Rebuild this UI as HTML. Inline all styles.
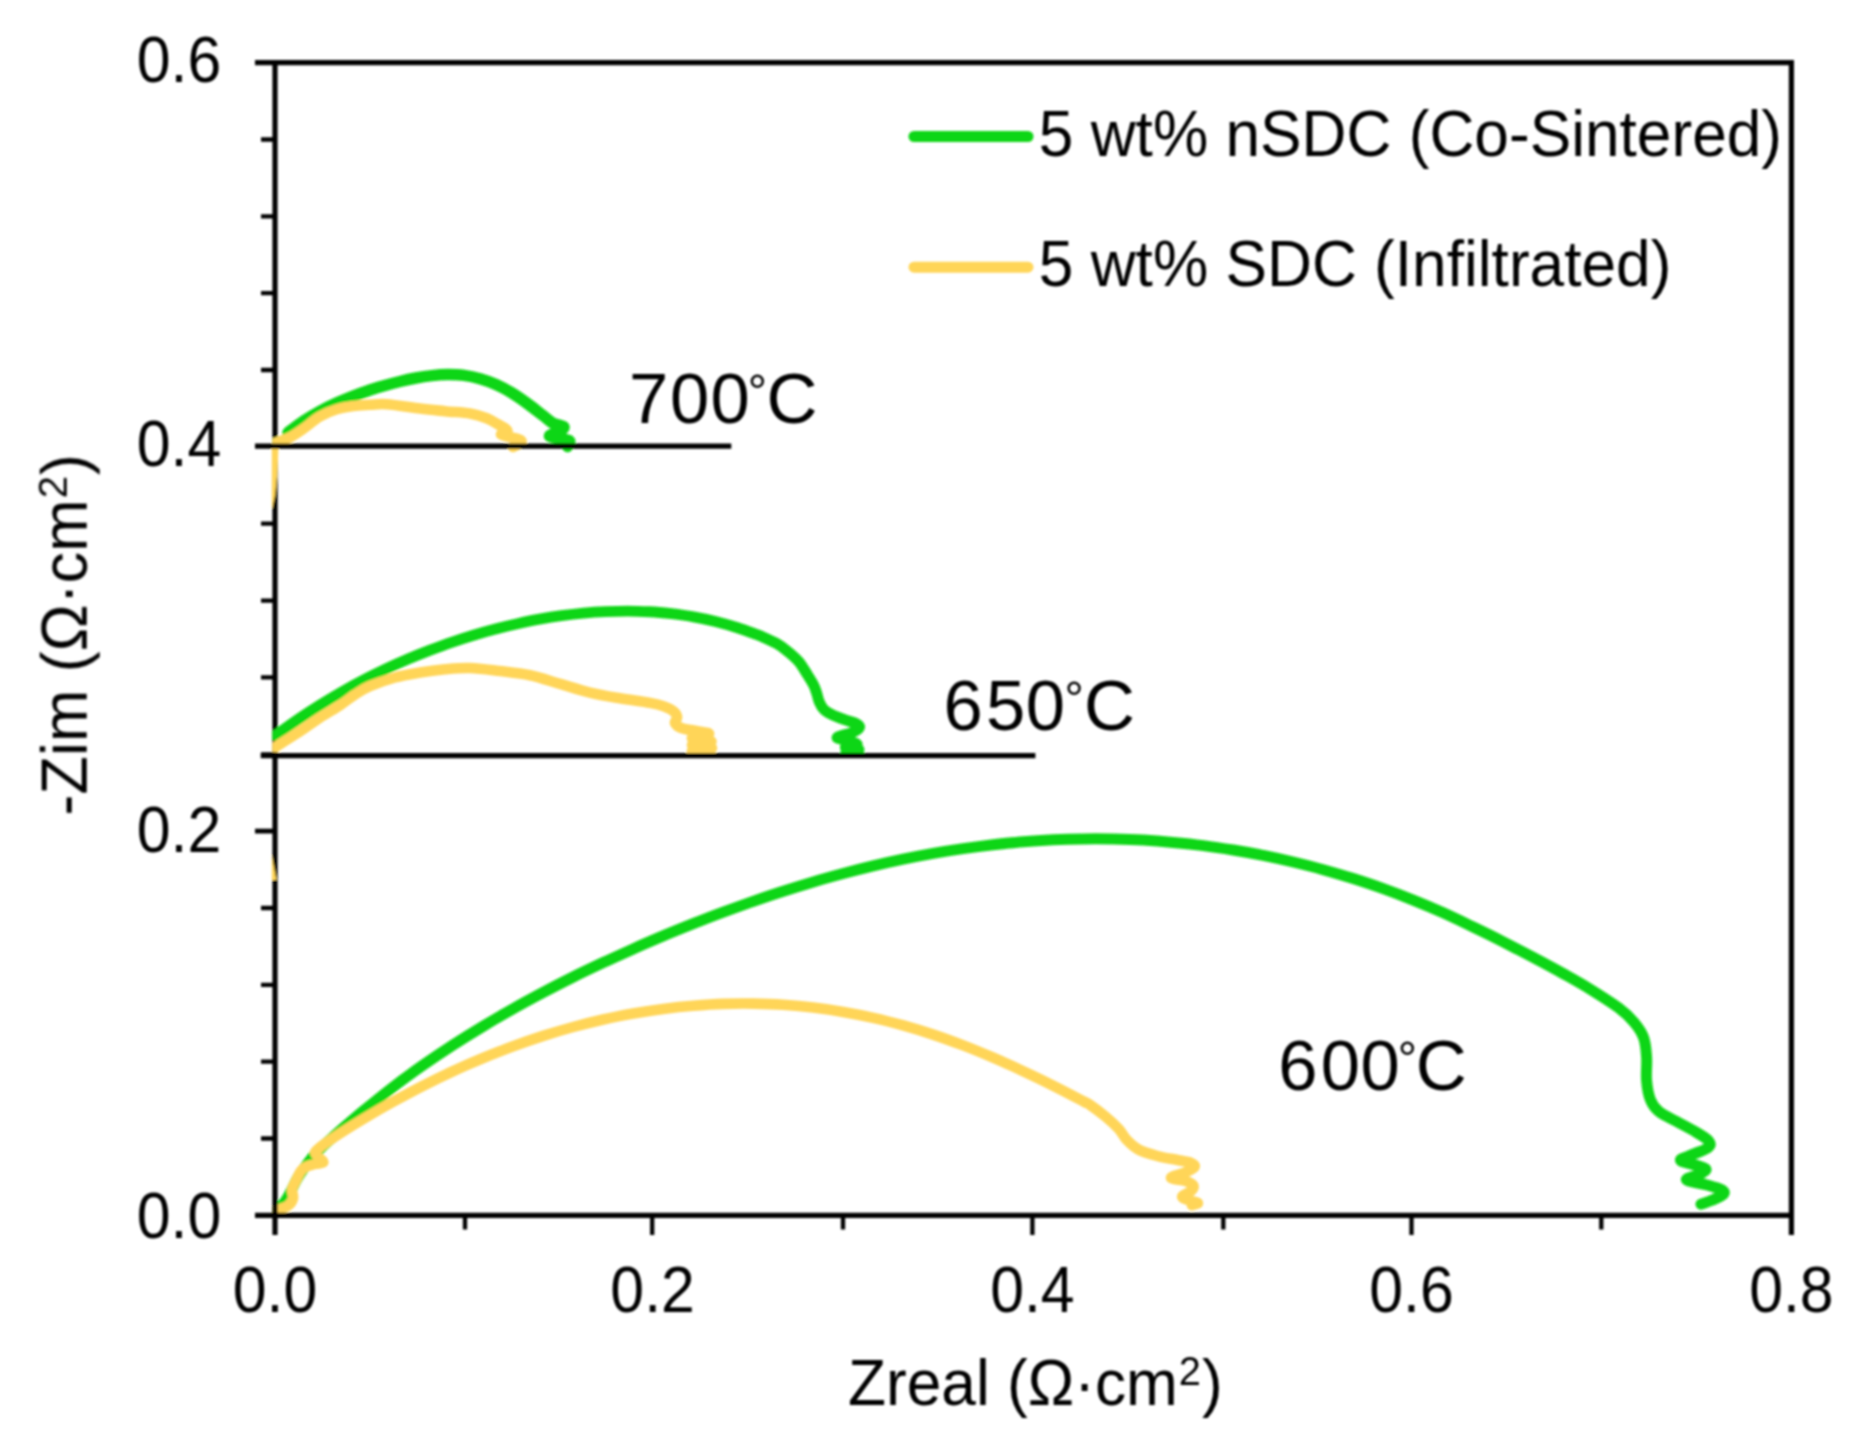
<!DOCTYPE html>
<html lang="en"><head><meta charset="utf-8"><title>Nyquist plot</title>
<style>html,body{margin:0;padding:0;background:#fff}body{width:1872px;height:1440px;overflow:hidden}svg{display:block}text{font-family:"Liberation Sans",Arial,sans-serif;fill:#000}</style></head><body>
<svg width="1872" height="1440" viewBox="0 0 1872 1440">
<rect width="1872" height="1440" fill="#fff"/>
<filter id="soft" x="0" y="0" width="1872" height="1440" filterUnits="userSpaceOnUse"><feGaussianBlur stdDeviation="1"/></filter>
<g filter="url(#soft)">
<clipPath id="cp"><rect x="272.2" y="40" width="1530" height="1190"/></clipPath>
<g clip-path="url(#cp)">
<path d="M275.0 1211.0C276.1 1210.2 279.3 1208.4 281.5 1206.0C283.7 1203.6 285.6 1201.1 288.2 1196.5C290.8 1191.9 294.6 1183.3 297.3 1178.5C300.0 1173.7 301.9 1171.4 304.5 1167.7C307.1 1164.0 310.1 1160.0 313.0 1156.5C315.9 1153.0 318.6 1150.3 322.0 1147.0C325.4 1143.7 326.3 1142.8 333.2 1136.8C340.1 1130.8 353.2 1119.4 363.2 1111.1C373.2 1102.8 383.2 1094.7 393.2 1087.0C403.2 1079.3 413.2 1072.1 423.2 1065.1C433.2 1058.1 443.2 1051.4 453.2 1044.9C463.2 1038.4 473.2 1032.2 483.2 1026.2C493.2 1020.2 503.2 1014.3 513.2 1008.7C523.2 1003.1 533.2 997.7 543.2 992.4C553.2 987.1 563.2 982.0 573.2 977.0C583.2 972.0 593.2 967.3 603.2 962.6C613.2 957.9 623.2 953.4 633.2 948.9C643.2 944.4 653.2 940.1 663.2 935.9C673.2 931.7 683.2 927.7 693.2 923.7C703.2 919.7 713.2 915.8 723.2 912.1C733.2 908.4 743.2 904.8 753.2 901.3C763.2 897.8 773.2 894.4 783.2 891.2C793.2 888.0 803.2 884.9 813.2 881.9C823.2 878.9 833.2 876.2 843.2 873.5C853.2 870.8 863.2 868.3 873.2 865.9C883.2 863.5 893.2 861.3 903.2 859.2C913.2 857.1 923.2 855.2 933.2 853.4C943.2 851.6 953.2 850.0 963.2 848.6C973.2 847.2 983.2 845.9 993.2 844.7C1003.2 843.6 1013.2 842.5 1023.2 841.7C1033.2 840.9 1043.2 840.3 1053.2 839.8C1063.2 839.3 1073.2 839.0 1083.2 838.9C1093.2 838.8 1103.2 838.8 1113.2 839.0C1123.2 839.2 1133.2 839.5 1143.2 840.1C1153.2 840.7 1163.2 841.5 1173.2 842.4C1183.2 843.3 1193.2 844.3 1203.2 845.6C1213.2 846.9 1223.2 848.4 1233.2 850.0C1243.2 851.6 1253.2 853.4 1263.2 855.4C1273.2 857.4 1283.2 859.6 1293.2 862.0C1303.2 864.4 1313.2 866.9 1323.2 869.7C1333.2 872.5 1343.2 875.4 1353.2 878.6C1363.2 881.8 1373.2 885.1 1383.2 888.7C1393.2 892.3 1403.2 896.1 1413.2 900.1C1423.2 904.1 1433.2 908.3 1443.2 912.8C1453.2 917.3 1463.2 922.2 1473.2 927.0C1483.2 931.8 1493.2 936.7 1503.2 941.8C1513.2 946.9 1523.2 952.1 1533.2 957.4C1543.2 962.7 1553.9 968.4 1563.2 973.6C1572.5 978.8 1580.0 982.9 1589.2 988.6C1598.4 994.3 1610.9 1002.1 1618.4 1007.7C1625.9 1013.3 1629.8 1017.3 1634.0 1022.3C1638.2 1027.3 1641.6 1032.0 1643.7 1037.8C1645.8 1043.6 1646.1 1050.2 1646.6 1057.3C1647.1 1064.4 1645.9 1073.5 1646.6 1080.6C1647.2 1087.7 1648.4 1094.8 1650.5 1100.0C1652.6 1105.2 1654.8 1108.2 1659.2 1111.8C1663.6 1115.4 1670.5 1118.1 1676.7 1121.5C1682.9 1124.9 1690.9 1129.0 1696.2 1132.2C1701.5 1135.5 1706.8 1138.4 1708.8 1141.0C1710.8 1143.6 1710.7 1145.4 1707.9 1147.7C1705.2 1150.0 1696.8 1152.5 1692.3 1154.6C1687.8 1156.7 1679.9 1158.6 1680.6 1160.4C1681.2 1162.2 1692.0 1163.8 1696.2 1165.3C1700.4 1166.8 1705.3 1167.6 1705.9 1169.1C1706.5 1170.5 1703.2 1172.2 1700.0 1174.0C1696.8 1175.8 1685.5 1178.0 1686.5 1179.8C1687.5 1181.6 1700.1 1183.1 1705.9 1184.7C1711.7 1186.3 1718.6 1188.0 1721.5 1189.6C1724.4 1191.2 1725.0 1192.6 1723.4 1194.4C1721.8 1196.2 1715.5 1198.7 1711.8 1200.3C1708.1 1201.9 1702.8 1203.5 1701.0 1204.2" fill="none" stroke="#0fd614" stroke-width="11" stroke-linecap="round" stroke-linejoin="round"/>
<path d="M274.5 1211.0C276.8 1210.1 284.9 1207.7 288.0 1205.6C291.1 1203.5 292.3 1201.1 293.0 1198.4C293.7 1195.7 291.6 1192.3 292.1 1189.3C292.6 1186.3 294.8 1183.3 296.2 1180.3C297.6 1177.3 299.0 1173.6 300.7 1171.3C302.4 1169.0 303.7 1167.9 306.1 1166.7C308.5 1165.5 312.2 1164.8 315.1 1164.0C318.0 1163.2 322.8 1163.4 323.3 1162.2C323.8 1161.0 319.3 1158.5 317.9 1156.8C316.5 1155.1 314.7 1153.9 315.1 1152.3C315.6 1150.7 317.6 1149.3 320.6 1146.9C323.6 1144.5 326.1 1142.5 333.2 1137.8C340.3 1133.1 353.2 1125.0 363.2 1119.0C373.2 1113.0 383.2 1107.2 393.2 1101.7C403.2 1096.2 413.2 1090.8 423.2 1085.7C433.2 1080.6 443.2 1075.7 453.2 1071.1C463.2 1066.5 473.2 1062.1 483.2 1058.0C493.2 1053.9 503.2 1050.0 513.2 1046.3C523.2 1042.6 533.2 1039.1 543.2 1035.9C553.2 1032.7 563.2 1029.7 573.2 1027.0C583.2 1024.3 593.2 1021.8 603.2 1019.5C613.2 1017.2 623.2 1015.3 633.2 1013.5C643.2 1011.7 653.2 1010.2 663.2 1008.9C673.2 1007.6 683.2 1006.5 693.2 1005.7C703.2 1004.9 713.2 1004.2 723.2 1003.9C733.2 1003.5 743.2 1003.5 753.2 1003.6C763.2 1003.8 773.2 1004.1 783.2 1004.8C793.2 1005.5 803.2 1006.4 813.2 1007.6C823.2 1008.8 833.2 1010.2 843.2 1011.9C853.2 1013.6 863.2 1015.5 873.2 1017.8C883.2 1020.0 893.2 1022.6 903.2 1025.4C913.2 1028.2 923.2 1031.3 933.2 1034.6C943.2 1037.9 953.2 1041.6 963.2 1045.4C973.2 1049.2 983.2 1053.4 993.2 1057.7C1003.2 1062.0 1013.2 1066.5 1023.2 1071.2C1033.2 1075.9 1043.2 1080.7 1053.2 1085.7C1063.2 1090.7 1077.1 1098.0 1083.2 1101.2C1089.3 1104.4 1086.3 1102.2 1090.0 1104.8C1093.7 1107.3 1100.6 1112.5 1105.4 1116.5C1110.2 1120.5 1115.3 1125.2 1118.8 1129.0C1122.3 1132.8 1123.3 1136.2 1126.5 1139.6C1129.7 1143.0 1132.9 1146.5 1138.0 1149.2C1143.1 1151.9 1150.9 1154.2 1157.3 1156.0C1163.7 1157.8 1170.9 1158.7 1176.5 1159.8C1182.1 1160.9 1188.0 1161.6 1191.0 1162.8C1194.0 1164.0 1195.3 1165.6 1194.4 1167.2C1193.5 1168.8 1189.5 1170.4 1185.6 1172.2C1181.7 1174.0 1171.0 1176.3 1171.0 1177.8C1171.0 1179.3 1181.9 1179.7 1185.6 1181.0C1189.3 1182.3 1192.4 1183.9 1193.3 1185.6C1194.2 1187.3 1192.8 1189.2 1191.0 1191.0C1189.2 1192.8 1182.2 1195.0 1182.2 1196.7C1182.2 1198.4 1188.4 1200.0 1191.0 1201.0C1193.6 1202.0 1197.6 1202.3 1197.8 1203.0C1198.0 1203.7 1193.0 1204.8 1192.0 1205.2" fill="none" stroke="#ffd558" stroke-width="10.6" stroke-linecap="round" stroke-linejoin="round"/>
</g>
<g stroke="#000" fill="none" stroke-linecap="butt">
<path d="M255 62.6H1791.4V1235" stroke-width="5.2"/>
<path d="M275.0 60.0V1235" stroke-width="5.2"/>
<path d="M255 1215.4H1794.0" stroke-width="5.2"/>
<path d="M261 1138.5H275.0M261 1061.7H275.0M261 984.8H275.0M261 908.0H275.0M261 754.3H275.0M261 677.4H275.0M261 600.6H275.0M261 523.7H275.0M261 370.0H275.0M261 293.2H275.0M261 216.3H275.0M261 139.5H275.0" stroke-width="4.3"/>
<path d="M255 831.1H275.0" stroke-width="4.8"/>
<path d="M465.0 1215.4V1229.5M652.2 1215.4V1235M843.0 1215.4V1229.5M1032.4 1215.4V1235M1223.3 1215.4V1229.5M1411.5 1215.4V1235M1601.3 1215.4V1229.5" stroke-width="4.3"/>
</g>
<g clip-path="url(#cp)">
<path d="M273 440.5L277.2 438.6" stroke="#0fd614" stroke-width="4" stroke-linecap="round"/>
<path d="M288.0 432.6C290.7 430.6 298.7 424.4 304.0 420.8C309.3 417.2 314.7 414.1 320.0 411.2C325.3 408.3 330.7 405.7 336.0 403.3C341.3 400.9 346.7 398.7 352.0 396.6C357.3 394.5 362.7 392.6 368.0 390.8C373.3 389.0 378.7 387.4 384.0 385.8C389.3 384.2 394.7 382.8 400.0 381.5C405.3 380.2 410.7 379.0 416.0 378.0C421.3 377.0 426.7 376.2 432.0 375.6C437.3 375.0 442.7 374.6 448.0 374.6C453.3 374.6 458.7 374.7 464.0 375.4C469.3 376.1 474.7 377.2 480.0 378.7C485.3 380.2 490.7 382.1 496.0 384.5C501.3 386.9 506.7 389.8 512.0 393.0C517.3 396.2 522.7 400.1 528.0 404.0C533.3 407.9 539.8 413.1 544.0 416.3C548.2 419.5 550.0 421.6 553.3 423.3C556.5 425.0 562.3 425.2 563.5 426.5C564.7 427.8 562.8 429.5 560.5 431.0C558.2 432.5 550.0 434.4 549.6 435.6C549.2 436.9 554.7 437.6 558.0 438.5C561.3 439.4 567.7 439.5 569.3 440.8C570.9 442.1 567.8 445.6 567.5 446.5" fill="none" stroke="#0fd614" stroke-width="11.5" stroke-linecap="round" stroke-linejoin="round"/>
<path d="M275.5 443.0C277.9 442.0 285.4 439.6 290.0 437.2C294.6 434.8 298.3 432.2 303.3 428.7C308.3 425.2 314.4 419.6 320.0 416.4C325.6 413.1 331.1 410.9 336.7 409.2C342.2 407.4 347.8 406.6 353.3 405.9C358.9 405.2 364.4 405.1 370.0 404.8C375.6 404.5 378.4 403.6 386.7 404.2C395.0 404.8 410.3 407.2 420.0 408.4C429.7 409.6 436.7 410.3 445.0 411.2C453.3 412.1 463.1 412.3 470.0 413.5C476.9 414.7 482.1 416.5 486.7 418.3C491.3 420.1 494.6 422.4 497.8 424.2C501.0 426.0 504.5 427.7 506.0 429.0C507.5 430.3 507.8 431.1 507.0 432.0C506.2 432.9 500.3 433.7 501.1 434.6C501.9 435.5 508.7 436.6 512.0 437.5C515.3 438.4 519.8 439.2 521.0 440.3C522.2 441.4 520.3 442.9 519.0 444.0C517.7 445.1 514.0 446.5 513.0 447.0" fill="none" stroke="#ffd558" stroke-width="10.6" stroke-linecap="round" stroke-linejoin="round"/>
<path d="M275.5 735.4C279.2 732.8 290.2 724.7 297.5 719.7C304.8 714.7 312.2 709.9 319.5 705.3C326.8 700.7 334.2 696.3 341.5 692.1C348.8 687.9 356.2 683.9 363.5 680.1C370.8 676.3 378.2 672.7 385.5 669.2C392.8 665.7 400.2 662.4 407.5 659.3C414.8 656.2 422.2 653.2 429.5 650.4C436.8 647.6 444.2 644.8 451.5 642.3C458.8 639.8 466.2 637.4 473.5 635.2C480.8 633.0 488.2 630.9 495.5 629.0C502.8 627.1 510.2 625.3 517.5 623.7C524.8 622.1 532.2 620.5 539.5 619.2C546.8 617.9 554.2 616.7 561.5 615.7C568.8 614.7 576.2 613.8 583.5 613.1C590.8 612.4 598.2 611.9 605.5 611.6C612.8 611.3 620.2 611.1 627.5 611.1C634.8 611.1 642.2 611.4 649.5 611.8C656.8 612.2 664.2 612.9 671.5 613.7C678.8 614.6 686.2 615.6 693.5 616.9C700.8 618.2 708.2 619.7 715.5 621.5C722.8 623.3 730.2 625.4 737.5 627.8C744.8 630.1 755.8 634.3 759.5 635.6C763.2 636.9 757.1 634.5 760.0 635.8C762.9 637.1 772.1 641.0 776.7 643.6C781.3 646.2 784.1 648.4 787.8 651.4C791.5 654.4 795.7 657.9 798.9 661.7C802.1 665.5 804.7 670.4 807.2 674.4C809.7 678.4 812.3 682.4 813.9 685.6C815.5 688.9 816.0 691.1 816.9 693.9C817.8 696.7 818.1 699.5 819.4 702.2C820.6 704.9 822.1 707.9 824.4 710.0C826.7 712.1 829.5 713.4 833.0 715.1C836.5 716.8 841.8 718.6 845.6 720.0C849.4 721.4 853.7 722.2 856.0 723.5C858.3 724.8 860.0 726.1 859.4 727.6C858.8 729.1 856.2 730.9 852.5 732.5C848.8 734.1 837.8 736.0 837.2 737.4C836.6 738.8 845.7 739.6 849.0 740.8C852.3 742.0 857.6 743.4 857.0 744.5C856.4 745.6 845.2 746.7 845.5 747.5C845.8 748.3 858.9 748.8 859.0 749.5C859.1 750.2 846.1 751.1 846.0 751.5C845.9 751.9 856.4 751.9 858.5 752.0" fill="none" stroke="#0fd614" stroke-width="10.9" stroke-linecap="round" stroke-linejoin="round"/>
<path d="M275.5 747.0C277.4 745.8 282.1 742.7 286.7 739.7C291.3 736.7 297.8 732.7 303.3 729.0C308.9 725.3 313.9 721.5 320.0 717.5C326.1 713.5 334.2 709.0 340.0 705.2C345.8 701.4 350.0 697.7 355.0 694.5C360.0 691.3 363.3 688.8 370.0 686.0C376.7 683.2 386.7 679.8 395.0 677.5C403.3 675.2 411.7 673.9 420.0 672.5C428.3 671.1 436.7 670.0 445.0 669.2C453.3 668.5 460.8 667.7 470.0 668.0C479.2 668.3 490.0 669.9 500.0 671.1C510.0 672.3 520.0 673.2 530.0 675.3C540.0 677.4 550.0 681.0 560.0 683.9C570.0 686.8 580.0 690.2 590.0 692.6C600.0 695.0 610.0 696.6 620.0 698.3C630.0 700.0 642.7 701.5 650.0 702.9C657.3 704.2 659.9 704.9 663.9 706.4C667.9 707.9 672.1 710.0 674.3 711.9C676.5 713.8 677.0 715.6 677.1 717.5C677.2 719.4 674.3 721.3 675.0 723.0C675.7 724.7 677.4 726.5 681.3 727.9C685.2 729.3 694.0 730.4 698.6 731.4C703.2 732.4 710.1 732.8 709.0 734.0C707.9 735.2 691.6 737.2 692.0 738.5C692.4 739.8 711.5 740.4 711.5 741.5C711.5 742.6 691.9 743.9 692.0 745.0C692.1 746.1 712.0 747.0 712.0 748.0C712.0 749.0 692.3 750.3 692.0 751.0C691.7 751.7 707.0 752.0 710.0 752.2" fill="none" stroke="#ffd558" stroke-width="10.6" stroke-linecap="round" stroke-linejoin="round"/>
</g>
<path d="M271.8 448H278.4L277.6 470L275.2 495L272.4 508H271.8Z" fill="#ffd558"/>
<path d="M271.8 855V880H276.5Z" fill="#ffd558"/>
<g stroke="#000" stroke-width="5.2" fill="none">
<path d="M255 446.2H731.3"/>
<path d="M260.7 755.6H1035.4"/>
</g>
<path d="M914 136.5H1028" stroke="#0fd614" stroke-width="11" stroke-linecap="round"/>
<path d="M914 267.2H1028" stroke="#ffd558" stroke-width="11" stroke-linecap="round"/>
<text id="leg1" transform="translate(1038.8 155.9) scale(0.972 1)" font-size="64">5 wt% nSDC (Co-Sintered)</text>
<text id="leg2" transform="translate(1038.8 286.1) scale(0.972 1)" font-size="64">5 wt% SDC (Infiltrated)</text>
<text class="yt" transform="translate(221.2 82.1) scale(0.95 1)" font-size="64" text-anchor="end">0.6</text>
<text class="yt" transform="translate(221.2 465.7) scale(0.95 1)" font-size="64" text-anchor="end">0.4</text>
<text class="yt" transform="translate(221.2 851.8) scale(0.95 1)" font-size="64" text-anchor="end">0.2</text>
<text class="yt" transform="translate(221.2 1237.7) scale(0.95 1)" font-size="64" text-anchor="end">0.0</text>
<text class="xt" transform="translate(275.0 1311.8) scale(0.95 1)" font-size="64" text-anchor="middle">0.0</text>
<text class="xt" transform="translate(652.6 1311.8) scale(0.95 1)" font-size="64" text-anchor="middle">0.2</text>
<text class="xt" transform="translate(1032.4 1311.8) scale(0.95 1)" font-size="64" text-anchor="middle">0.4</text>
<text class="xt" transform="translate(1411.5 1311.8) scale(0.95 1)" font-size="64" text-anchor="middle">0.6</text>
<text class="xt" transform="translate(1791.4 1311.8) scale(0.95 1)" font-size="64" text-anchor="middle">0.8</text>
<text id="t700" y="423.0" font-size="70.6"><tspan x="629.0 670.1 710.4">700</tspan><tspan x="747.8" dy="-15.1" font-size="48">°</tspan><tspan x="766.5" dy="15.1">C</tspan></text>
<text id="t650" y="729.6" font-size="70.6"><tspan x="943.6 986.1 1025.7">650</tspan><tspan x="1064.5" dy="-15.1" font-size="48">°</tspan><tspan x="1083.9" dy="15.1">C</tspan></text>
<text id="t600" y="1090.2" font-size="70.6"><tspan x="1278.3 1320.8 1360.4">600</tspan><tspan x="1397.8" dy="-15.1" font-size="48">°</tspan><tspan x="1415.8" dy="15.1">C</tspan></text>
<text id="xl" transform="translate(848 1405) scale(0.972 1)" font-size="64">Zreal (Ω·cm<tspan font-size="41" dy="-19.8" dx="1">2</tspan><tspan dy="19.8" dx="1">)</tspan></text>
<text id="yl" transform="translate(86.7 815.6) rotate(-90) scale(0.983664 1)" font-size="64">-Zim (Ω·cm<tspan font-size="41" dy="-19.8" dx="1">2</tspan><tspan dy="19.8" dx="1">)</tspan></text>
</g>
</svg></body></html>
